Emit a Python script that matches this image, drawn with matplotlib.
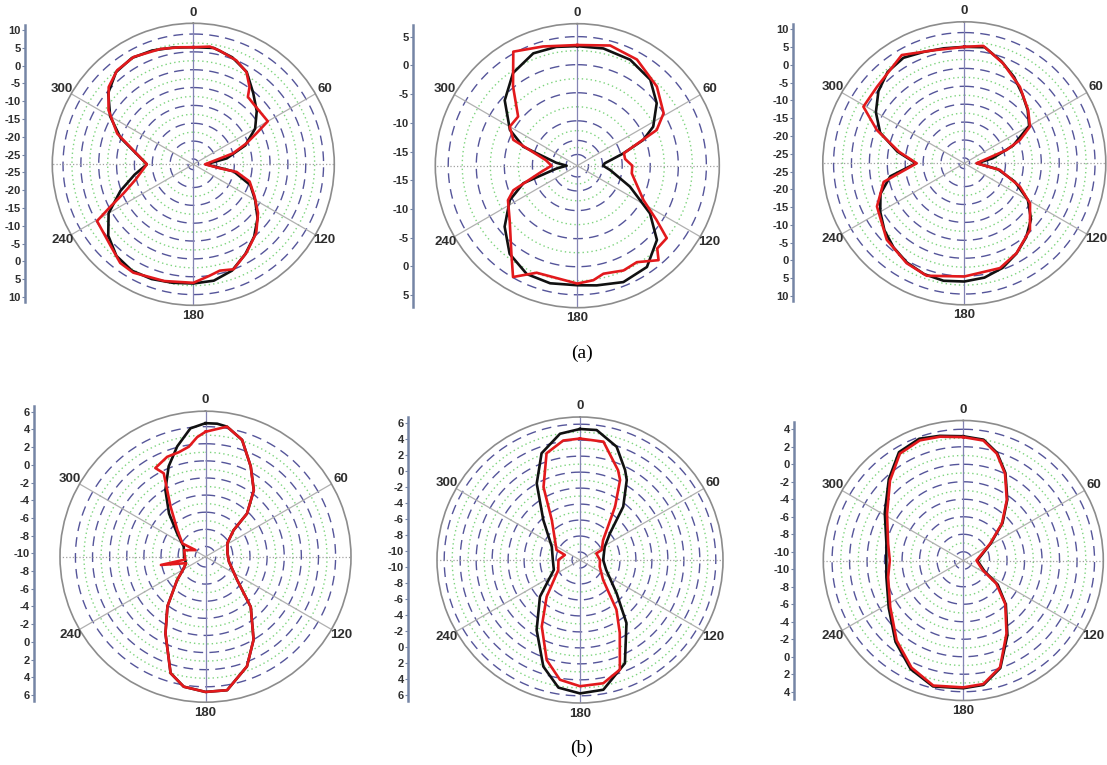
import numpy as np
import matplotlib
matplotlib.use("Agg")
import matplotlib.pyplot as plt

plt.rcParams['font.family'] = ['Liberation Sans', 'DejaVu Sans']

W, H = 1107, 765

# ---- radiation patterns, angle in degrees (clockwise from top), level in dB ----
a1_red_ang = [0, 8, 13, 22.5, 30, 36, 39, 44.5, 60, 64, 68.5, 74.6, 90, 98.5, 100, 107, 117.7, 127, 137.5, 149,
              159, 166, 172, 180, 194, 209, 216.5, 225, 239.5, 243, 247.5, 255, 270, 283, 292, 302.6, 312.4, 321,
              331, 344, 353.5]
a1_red_db = [6.3, 6.8, 6.2, 5.0, 3.3, 0.3, -2.2, -2.6, -2.4, -6.9, -10.5, -15.0, -23.2, -19.0, -14.2, -10.0, -7.1,
             -3.8, -0.4, 2.4, 5.0, 4.2, 5.1, 6.7, 7.2, 8.2, 7.9, 6.1, 4.8, -0.5, -5.4, -9.7, -13.5, -9.3, -3.5, 1.7,
             5.6, 7.4, 7.9, 7.1, 6.5]
a1_blk_ang = [0, 10, 20, 30, 40, 50, 60, 70, 80, 90, 100, 110, 120, 130, 140, 150, 160, 170, 180, 190, 200, 210,
              220, 230, 240, 250, 260, 270, 280, 290, 300, 310, 320, 330, 340, 350]
a1_blk_db = [6.3, 6.6, 5.4, 3.4, -0.4, -3.3, -6.5, -11.0, -17.0, -23.0, -15.0, -9.5, -6.5, -3.0, 0.0, 2.6, 5.2,
             6.6, 6.9, 7.2, 7.7, 7.9, 7.0, 4.6, 0.9, -4.8, -9.8, -13.5, -10.5, -4.8, 0.4, 4.6, 7.2, 7.9, 7.4, 6.7]

a2_red_ang = [0, 15.3, 29.3, 45.1, 58.7, 65.8, 75, 82, 90, 98, 117.5, 124.4, 129, 136, 139.3, 148.3, 156.2, 166.4,
              172, 180, 200.8, 210, 216.8, 231, 243.5, 249, 260, 270, 280, 292, 300, 309.7, 321, 330.7, 344]
a2_red_db = [3.5, 4.2, 3.7, 2.0, 0.0, -2.5, -9.4, -9.4, -8.2, -8.2, -4.7, -0.9, 2.5, 2.5, 4.2, 2.2, 2.4, 1.8, 2.6,
             3.0, 2.4, 4.9, 1.6, -2.5, -4.2, -5.8, -11.4, -13.4, -12.3, -5.7, -4.1, -4.3, 0.2, 5.3, 4.1]
a2_blk_ang = [0, 12.5, 26.5, 40.3, 51.8, 62.8, 68.7, 75, 85, 90, 97.5, 111.7, 123.3, 133, 145.5, 158.4, 170.8,
              180, 193, 205, 217.5, 230, 243, 252, 262, 270, 278, 289.4, 298, 312, 325.3, 338.6, 350]
a2_blk_db = [3.3, 3.4, 3.1, 2.1, 0.0, -2.8, -5.4, -9.5, -13.1, -13.4, -12.1, -7.9, -2.5, 1.4, 3.9, 4.3, 3.6, 3.3,
             3.5, 3.3, 1.8, -1.1, -4.5, -7.9, -14.2, -16.1, -14.2, -7.8, -4.4, -0.6, 2.1, 3.5, 3.5]

a3_red_ang = [0, 9.2, 21.3, 36, 50.2, 60.8, 67.3, 72.5, 90, 100.6, 112.7, 121.4, 135.4, 149.8, 161.2, 180, 198.5,
              210, 225.4, 243.7, 257, 270, 280, 290.8, 299.3, 311.2, 330, 344.7, 354.5]
a3_red_db = [6.0, 6.7, 3.4, -0.1, -3.3, -5.5, -9.7, -14.1, -23.1, -16.4, -9.7, -5.0, -0.4, 2.5, 4.4, 5.1, 6.6,
             5.7, 3.9, 0.7, -3.4, -13.2, -8.0, -0.4, 5.8, 5.9, 8.4, 6.2, 5.8]
a3_blk_ang = a1_blk_ang
a3_blk_db = [6.0, 6.4, 3.8, 1.3, -1.3, -3.4, -5.6, -12.0, -18.5, -23.0, -17.0, -11.5, -6.0, -2.2, 0.4, 2.6, 4.6,
             5.9, 6.5, 6.8, 6.4, 5.5, 4.2, 2.6, 0.6, -1.6, -5.5, -13.0, -7.5, -1.5, 2.0, 4.8, 6.8, 7.5, 6.6, 6.1]

b1_red_ang = [0, 9.4, 17.4, 26.6, 36, 43.9, 46.7, 58.4, 81, 102, 126.4, 138, 149.9, 159.3, 170.8, 180, 189.5,
              196.7, 207.6, 217.5, 230.5, 241.7, 251.6, 259.5, 262, 287, 303.7, 299.7, 313.3, 325, 333.4, 330.5,
              339, 345.7, 351.4, 356]
b1_red_db = [3.4, 4.2, 3.1, 0.6, -1.6, -4.2, -6.7, -8.2, -8.6, -8.4, -6.6, -3.3, 0.0, 2.5, 4.6, 4.6, 4.2, 3.0,
             -1.1, -3.9, -6.9, -8.3, -8.8, -5.9, -8.8, -8.6, -9.8, -8.1, -6.7, -4.1, -0.3, 0.7, 1.3, 1.4, 1.8, 2.8]
b1_blk_ang = [0, 5, 9.4, 17.4, 26.6, 36, 43.9, 46.7, 58.4, 81, 102, 126.4, 138, 149.9, 159.3, 170.8, 180, 189.5,
              196.7, 207.6, 217.5, 230.5, 241.7, 251.6, 270, 294.8, 309.5, 319.8, 329, 337.8, 345.6, 353.3]
b1_blk_db = [4.4, 4.4, 4.2, 3.1, 0.6, -1.6, -4.2, -6.7, -8.2, -8.6, -8.4, -6.6, -3.3, 0.0, 2.5, 4.6, 4.6, 4.2,
             3.0, -1.1, -3.9, -6.9, -8.3, -8.8, -8.7, -8.4, -6.9, -4.6, -2.1, 0.2, 2.1, 3.9]

b2_red_ang = [0, 11.2, 23, 26.6, 33.3, 49.4, 65.2, 68, 90, 108.4, 130.6, 143.7, 151.4, 160, 169.3, 180, 189.5,
              198.4, 209.9, 222.3, 245.2, 270, 288.4, 293.2, 324.7, 333.4, 342.6, 352]
b2_red_db = [4.2, 4.1, 1.2, 0.2, -3.0, -7.2, -8.0, -8.8, -8.5, -8.4, -7.2, -3.3, -0.6, 3.6, 4.7, 4.8, 4.2, 2.2,
             -1.4, -4.8, -8.0, -8.3, -9.0, -7.8, -4.9, -0.8, 3.0, 4.1]
b2_blk_ang = [0, 7.3, 17.9, 26.6, 30.3, 39, 48.4, 62, 90, 110.6, 132.3, 143.6, 156.5, 169.8, 180, 189.6, 199,
              211.8, 227.5, 249.4, 270, 295.2, 317.5, 330.5, 340.2, 351]
b2_blk_db = [5.4, 5.4, 3.9, 1.6, 0.6, -2.4, -6.0, -7.5, -8.1, -7.5, -4.8, -1.2, 3.1, 5.5, 5.7, 5.2, 3.1, -0.7,
             -4.2, -7.5, -7.6, -7.1, -4.2, 0.0, 3.2, 5.0]

b3_red_ang = [0, 9.5, 17.4, 25.7, 35.8, 46.3, 58, 90, 116.6, 125, 136, 149.4, 161, 170.8, 180, 193.5, 205.8,
              219.8, 237.5, 257.5, 270, 282.5, 301.3, 317.5, 329.3, 340.1, 349.3]
b3_red_db = [3.1, 2.9, 1.8, 0.0, -2.5, -4.9, -7.4, -9.5, -8.5, -6.4, -4.1, -1.3, 1.9, 3.3, 3.5, 3.7, 2.6, 0.9,
             -1.1, -2.2, -2.6, -2.2, -0.8, 1.4, 3.2, 3.6, 3.4]
b3_blk_ang = b3_red_ang
b3_blk_db = [3.2, 3.0, 1.9, 0.1, -2.4, -4.8, -7.3, -9.4, -8.3, -6.2, -4.0, -1.1, 2.0, 3.4, 3.6, 3.8, 2.8, 1.1,
             -0.9, -2.0, -2.2, -2.0, -0.5, 1.6, 3.4, 3.8, 3.5]

# printed dB scales beside each polar plot
a_scale_1 = [10, 5, 0, -5, -10, -15, -20, -25, -25, -20, -15, -10, -5, 0, 5, 10]
a_scale_2 = [5, 0, -5, -10, -15, -15, -10, -5, 0, 5]
b_scale_1 = [6, 4, 2, 0, -2, -4, -6, -8, -10, -8, -6, -4, -2, 0, 2, 4, 6]
b_scale_2 = [6, 4, 2, 0, -2, -4, -6, -8, -10, -10, -8, -6, -4, -2, 0, 2, 4, 6]
b_scale_3 = [4, 2, 0, -2, -4, -6, -8, -10, -10, -8, -6, -4, -2, 0, 2, 4]

angle_ticks = [0, 60, 120, 180, 240, 300]
a_rings = [-25, -20, -15, -10, -5, 0, 5, 10]
a2_rings = [-16, -13.5, -10, -5, 0, 5]
b_rings = [-10, -8, -6, -4, -2, 0, 2, 4]
b2_rings = [-10, -8, -6, -4, -2, 0, 2, 4, 6]

fig = plt.figure(figsize=(W / 100, H / 100), dpi=100)
full = np.linspace(0, 2 * np.pi, 721)


def polar_panel(cx, cy, R, lo, hi, rings, blk, red):
    ax = fig.add_axes([(cx - R) / W, 1 - (cy + R) / H, 2 * R / W, 2 * R / H], projection='polar')
    ax.set_theta_zero_location('N')
    ax.set_theta_direction(-1)
    ax.set_ylim(lo, hi)
    ax.set_xticks([]); ax.set_yticks([])
    ax.grid(False)
    ax.spines['polar'].set_color('#8c8c8c'); ax.spines['polar'].set_linewidth(1.2)
    for v in rings:
        ax.plot(full, np.full_like(full, v), color='#55559a', lw=1.0, dashes=(7, 4.5))
    mids = [(a + b) / 2 for a, b in zip(rings[:-1], rings[1:])]
    for v in mids:
        ax.plot(full, np.full_like(full, v), color='#7ed47e', lw=1.0, ls=(0, (1, 2.2)))
    for th, col, ls in [(0, '#8484b4', '-'), (60, '#b0b0b0', '-'), (120, '#b0b0b0', '-'), (90, '#a0a0a0', ':')]:
        t = np.deg2rad(th)
        ax.plot([t, t], [lo, hi], color=col, lw=0.9, ls=ls)
        ax.plot([t + np.pi, t + np.pi], [lo, hi], color=col, lw=0.9, ls=ls)
    ang, db = blk
    ax.plot(np.deg2rad(ang + ang[:1]), db + db[:1], color='#111111', lw=1.9)
    ang, db = red
    ax.plot(np.deg2rad(ang + ang[:1]), db + db[:1], color='#e2191c', lw=1.9)
    for a in angle_ticks:
        t = np.deg2rad(a)
        ax.text(0.5 + 0.537 * np.sin(t), 0.5 + 0.537 * np.cos(t), str(a), transform=ax.transAxes,
                ha='center', va='center', fontsize=9.5, fontweight='bold', color='#2e2e2e')
    return ax


def scale_bar(x, y0, y1, labels, pad):
    n = len(labels)
    s = (y1 - y0) / (n - 1)
    ax = fig.add_axes([x / W, 1 - (y1 + pad) / H, 0.5 / W, (y1 - y0 + 2 * pad) / H])
    ax.set_ylim(n - 1 + pad / s, -pad / s)
    ax.set_yticks(range(n))
    ax.set_yticklabels([str(v) for v in labels], fontweight='bold')
    ax.set_xticks([])
    for sp in ['top', 'right', 'bottom']:
        ax.spines[sp].set_visible(False)
    ax.spines['left'].set_color('#7585a5'); ax.spines['left'].set_linewidth(1.8)
    ax.tick_params(axis='y', length=2, width=0.8, pad=1, labelsize=8, labelcolor='#2e2e2e', color='#7585a5')
    ax.patch.set_visible(False)


polar_panel(193.3, 164.3, 141, -26.5, 13, a_rings, (a1_blk_ang, a1_blk_db), (a1_red_ang, a1_red_db))
polar_panel(577.3, 165.7, 142, -18, 7.3, a2_rings, (a2_blk_ang, a2_blk_db), (a2_red_ang, a2_red_db))
polar_panel(964.3, 163.3, 141.5, -26.5, 13, a_rings, (a3_blk_ang, a3_blk_db), (a3_red_ang, a3_red_db))
polar_panel(205.5, 556.7, 145.5, -11.2, 5.8, b_rings, (b1_blk_ang, b1_blk_db), (b1_red_ang, b1_red_db))
polar_panel(580, 560, 143, -11, 6.9, b2_rings, (b2_blk_ang, b2_blk_db), (b2_red_ang, b2_red_db))
polar_panel(963.3, 560.5, 140, -11, 5, b_rings, (b3_blk_ang, b3_blk_db), (b3_red_ang, b3_red_db))

scale_bar(25, 30, 297, a_scale_1, 5)
scale_bar(413, 36.7, 295, a_scale_2, 12)
scale_bar(792.7, 29.3, 296, a_scale_1, 5)
scale_bar(34, 411.7, 695, b_scale_1, 6)
scale_bar(408, 422.7, 695, b_scale_2, 6)
scale_bar(794, 429.3, 691.7, b_scale_3, 7)

fig.text(582 / W, 1 - 353 / H, '(a)', ha='center', va='center', fontsize=14, family='Liberation Serif')
fig.text(582 / W, 1 - 748 / H, '(b)', ha='center', va='center', fontsize=14, family='Liberation Serif')

fig.savefig('out.png', dpi=100)
